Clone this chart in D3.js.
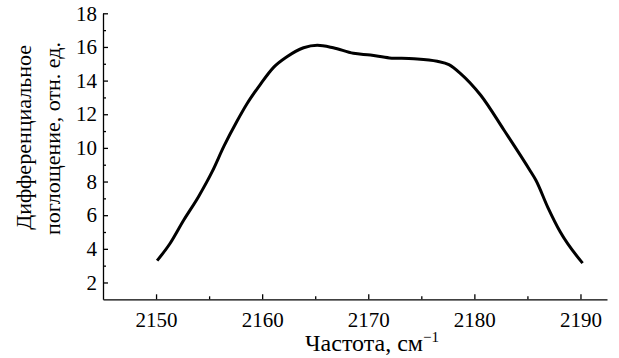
<!DOCTYPE html>
<html>
<head>
<meta charset="utf-8">
<script src="https://cdn.jsdelivr.net/npm/d3@7"></script>
<style>
  body { margin: 0; background: #fff; }
</style>
</head>
<body>
<svg id="graphique" width="619" height="358"></svg>
<script>
// données
const frequence = [2150.1, 2151.3, 2152.6, 2154.0, 2155.3, 2156.4, 2157.6, 2158.6, 2159.8, 2161.1,
  2162.3, 2163.9, 2165.2, 2166.7, 2168.6, 2170.2, 2172.0, 2174.3, 2176.5, 2177.6,
  2178.7, 2180.6, 2182.8, 2185.3, 2185.8, 2186.9, 2188.1, 2190.2];
const absorption = [3.3, 4.3, 5.7, 7.1, 8.6, 10.1, 11.55, 12.65, 13.75, 14.8,
  15.4, 15.95, 16.1, 15.95, 15.62, 15.52, 15.35, 15.3, 15.15, 14.95,
  14.42, 13.13, 11.05, 8.6, 8.08, 6.5, 5.0, 3.15];
const ticksX = [2150, 2160, 2170, 2180, 2190];
const ticksY = [2, 4, 6, 8, 10, 12, 14, 16, 18];

const police = "'Liberation Serif'";
const svg = d3.select("#graphique");
const gauche = 103, droite = 607, haut = 13.3, bas = 299.3;

const x = d3.scaleLinear().domain([2145, 2192.5]).range([gauche, droite]);
const y = d3.scaleLinear().domain([1, 18]).range([bas, haut]);

// axe X : graduations vers l'intérieur
const axeX = svg.append("g").attr("transform", `translate(0,${bas})`)
  .call(d3.axisBottom(x).tickValues(ticksX).tickFormat(d3.format("d"))
    .tickSize(-5).tickSizeOuter(0).tickPadding(13));
svg.append("g").attr("transform", `translate(0,${bas})`)
  .call(d3.axisBottom(x).tickValues(d3.range(2155, 2192, 10)).tickFormat("")
    .tickSize(-3).tickSizeOuter(0))
  .select(".domain").remove();

// axe Y
const axeY = svg.append("g").attr("transform", `translate(${gauche},0)`)
  .call(d3.axisLeft(y).tickValues(ticksY).tickSize(-5).tickSizeOuter(0).tickPadding(6));
svg.append("g").attr("transform", `translate(${gauche},0)`)
  .call(d3.axisLeft(y).tickValues(d3.range(3, 18, 2)).tickFormat("")
    .tickSize(-3).tickSizeOuter(0))
  .select(".domain").remove();

svg.selectAll(".domain, .tick line").attr("stroke", "#000").attr("stroke-width", 1.3);
[axeX, axeY].forEach(a => a.attr("font-family", null).attr("font-size", null)
  .selectAll("text")
  .style("font-family", police).style("font-size", "21px").attr("fill", "#000"));

// courbe
svg.append("path")
  .datum(frequence.map((f, i) => [f, absorption[i]]))
  .attr("fill", "none")
  .attr("stroke", "#000")
  .attr("stroke-width", 3)
  .attr("stroke-linejoin", "round")
  .attr("d", d3.line().x(d => x(d[0])).y(d => y(d[1])).curve(d3.curveMonotoneX));

// titres des axes
const titreX = svg.append("text")
  .attr("x", 372).attr("y", 351)
  .attr("text-anchor", "middle")
  .style("font-family", police)
  .style("font-size", "24px")
  .text("Частота,  см");
titreX.append("tspan").attr("dy", -9).style("font-size", "15px").text("−1");

const titreY = svg.append("text")
  .attr("transform", "translate(31,45) rotate(-90)")
  .attr("text-anchor", "end")
  .style("font-family", police)
  .style("font-size", "22px");
titreY.append("tspan").attr("x", 0).attr("dy", 0).text("Дифференциальное");
titreY.append("tspan").attr("x", 3).attr("dy", 29).text("поглощение,  отн.  ед.");
</script>
</body>
</html>
